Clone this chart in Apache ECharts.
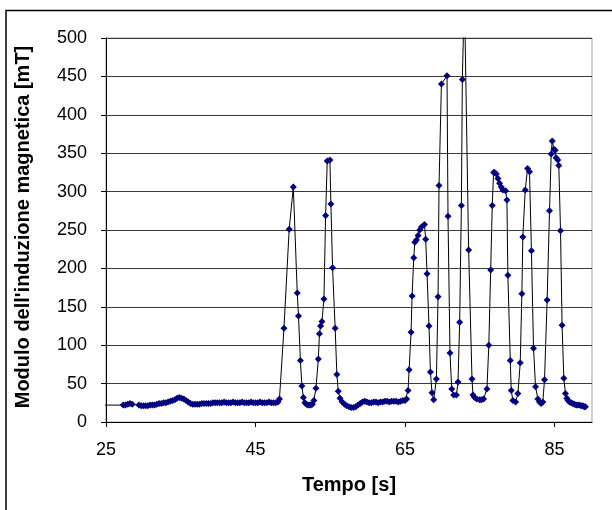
<!DOCTYPE html>
<html>
<head>
<meta charset="utf-8">
<script src="https://cdn.jsdelivr.net/npm/echarts@6/dist/echarts.min.js"></script>
<style>
html,body{margin:0;padding:0;background:#fff;}
#c{width:612px;height:510px;}
</style>
</head>
<body>
<div id="c"></div>
<script>
// Time [s]
var times = [24.0,
27.3,27.6,27.9,28.2,28.5,
29.4,29.7,30.0,30.3,30.6,30.9,31.2,31.5,31.8,32.1,32.4,32.7,33.0,33.3,33.6,33.9,34.2,34.5,34.8,35.1,35.4,35.7,36.0,36.3,36.6,36.9,37.2,37.5,37.8,38.1,38.4,38.7,39.0,39.3,39.6,39.9,
40.2,40.5,40.8,41.1,41.4,41.7,42.0,42.3,42.6,42.9,43.2,43.5,43.8,44.1,44.4,44.7,45.0,45.3,45.6,45.9,46.2,46.5,46.8,47.1,47.4,47.7,48.0,48.2,
48.8,49.5,50.05,50.58,50.75,51.0,51.2,51.4,51.6,51.8,52.0,52.2,52.4,52.6,52.8,53.08,53.4,53.55,53.7,53.88,54.15,54.37,54.59,54.95,55.08,55.3,55.65,55.88,56.06,
56.3,56.6,56.9,57.2,57.5,57.8,58.1,58.4,58.7,59.0,59.3,59.6,59.9,60.2,60.5,60.8,61.1,61.4,61.7,62.0,62.3,62.6,62.9,63.2,63.5,63.8,64.1,64.4,64.7,65.0,65.2,
65.4,65.54,65.8,65.94,66.16,66.3,66.52,66.74,66.96,67.19,67.59,67.76,67.94,68.2,68.39,68.6,68.83,
69.19,69.41,69.54,69.86,70.61,70.74,71.01,71.24,71.5,71.86,72.08,72.3,72.53,72.66,72.93,73.5,73.95,74.08,74.3,74.6,74.97,75.2,75.5,
75.95,76.2,76.45,76.66,76.84,76.98,77.2,77.42,77.64,77.86,78.08,78.44,78.62,78.75,79.07,79.2,79.42,79.78,80.09,
80.4,80.62,80.75,81.07,81.38,81.64,81.9,82.18,82.45,82.76,82.98,83.2,83.42,83.65,
84.0,84.32,84.54,84.68,84.9,85.08,85.2,85.43,85.56,85.79,86.0,86.23,86.45,86.63,86.8,86.99,87.2,87.43,87.65,87.88,88.1,88.32,88.55,88.77,88.95,89.12];

// Modulo dell'induzione magnetica [mT]
var values = [22,
22,22,23,24,23,
22,21,21,21,21,22,22,22,23,24,24,25,25,26,27,28,29,31,32,31,30,28,26,24,23,23,23,23,24,24,24,24,24,25,25,25,
25,25,26,25,25,25,26,25,25,25,26,25,25,25,26,25,25,25,26,25,25,25,26,25,25,25,26,30,
122,251,306,168,138,80,47,32,25,23,22,22,22,23,28,44,82,115,125,131,160,269,340,341,284,201,122,62,40,
31,26,23,21,20,19,19,20,22,24,26,27,26,25,25,26,26,25,26,26,27,27,26,27,27,27,26,27,28,28,30,
41,68,117,164,214,234,237,243,250,254,257,238,193,125,65,38,29,
56,163,308,440,451,268,90,43,35,35,52,130,282,446,560,224,56,35,32,30,29,29,30,
43,100,198,282,325,325,323,317,311,306,302,301,289,191,80,41,28,26,37,
77,167,241,302,330,326,223,96,46,30,26,24,26,55,
159,275,349,366,355,354,344,341,334,249,126,57,37,31,28,26,25,24,23,22,22,22,21,21,20,20];

var xTicks = [25, 45, 65, 85];

var seriesData = times.map(function (t, i) {
  if (t < 25) return { value: [t, values[i]], symbol: 'none' };
  return [t, values[i]];
});

var FONT = "'Liberation Sans', Arial, sans-serif";
var chart = echarts.init(document.getElementById('c'), null, { renderer: 'canvas' });
chart.setOption({
  animation: false,
  backgroundColor: '#ffffff',
  graphic: [{
    type: 'rect',
    shape: { x: 6, y: 10.5, width: 700, height: 600 },
    style: { fill: 'none', stroke: '#000', lineWidth: 1.5 },
    silent: true,
    z: -1
  }],
  grid: {
    left: 106, top: 38, right: 20, bottom: 88,
    show: true, borderColor: '#a0a0a0', borderWidth: 1, backgroundColor: '#fff'
  },
  xAxis: {
    type: 'value',
    min: 25, max: 90,
    name: 'Tempo [s]',
    nameLocation: 'middle',
    nameGap: 53,
    nameTextStyle: { fontFamily: FONT, fontWeight: 'bold', fontSize: 20, color: '#000' },
    axisLine: { show: true, onZero: false, lineStyle: { color: '#000', width: 1 } },
    axisTick: { show: true, inside: false, length: 5, customValues: xTicks, lineStyle: { color: '#000' } },
    axisLabel: { customValues: xTicks, fontFamily: FONT, fontSize: 18, color: '#000', margin: 19 },
    splitLine: { show: false }
  },
  yAxis: {
    type: 'value',
    min: 0, max: 500, interval: 50,
    name: "Modulo dell'induzione magnetica [mT]",
    nameLocation: 'middle',
    nameGap: 73,
    nameTextStyle: { fontFamily: FONT, fontWeight: 'bold', fontSize: 20, color: '#000', padding: [0, 0, 0, 6] },
    axisLine: { show: true, lineStyle: { color: '#000', width: 1 } },
    axisTick: { show: true, inside: false, length: 5, lineStyle: { color: '#000' } },
    axisLabel: { fontFamily: FONT, fontSize: 18, color: '#000', margin: 19 },
    splitLine: { show: true, lineStyle: { color: '#3a3a3a', width: 1 } }
  },
  series: [{
    type: 'line',
    data: seriesData,
    clip: true,
    symbol: 'diamond',
    symbolSize: 7,
    showAllSymbol: true,
    itemStyle: { color: '#000080', borderWidth: 0 },
    lineStyle: { color: '#000', width: 1 },
    emphasis: { disabled: true }
  }]
});
</script>
</body>
</html>
